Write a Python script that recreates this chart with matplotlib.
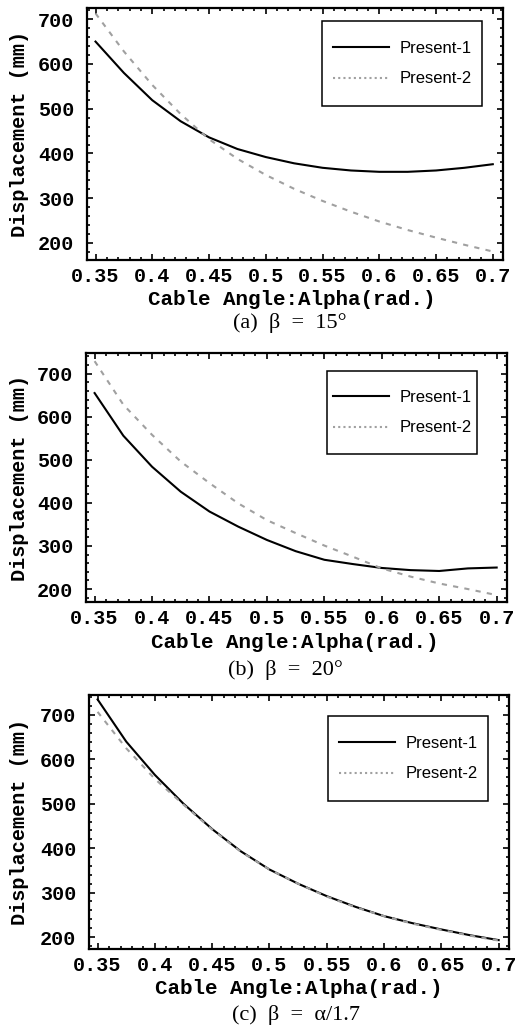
import matplotlib
matplotlib.use("Agg")
import matplotlib.pyplot as plt
from matplotlib.ticker import MultipleLocator, FixedLocator
from matplotlib.patches import Rectangle

# ---------------- data ----------------
alpha = [0.35, 0.375, 0.40, 0.425, 0.45, 0.475, 0.50, 0.525, 0.55,
         0.575, 0.60, 0.625, 0.65, 0.675, 0.70]

a_present1 = [650, 580, 519, 472, 436, 410, 392, 378, 368, 362, 359, 359, 362, 368, 376]
a_present2 = [713, 628, 553, 488, 432, 388, 352, 321, 294, 270, 248, 229, 212, 196, 181]

b_present1 = [655, 556, 484, 426, 380, 345, 314, 288, 268, 258, 249, 244, 242, 248, 250]
b_present2 = [729, 628, 558, 496, 446, 399, 360, 330, 301, 275, 248, 229, 213, 200, 186]

c_present1 = [735, 640, 565, 500, 443, 393, 352, 320, 292, 268, 247, 231, 217, 204, 193]
c_present2 = [707, 625, 556, 498, 442, 392, 352, 320, 291, 267, 247, 230, 216, 203, 192]

x_ticks = [0.35, 0.40, 0.45, 0.50, 0.55, 0.60, 0.65, 0.70]
x_tick_labels = ["0.35", "0.4", "0.45", "0.5", "0.55", "0.6", "0.65", "0.7"]
y_ticks = [200, 300, 400, 500, 600, 700]
y_tick_labels = ["200", "300", "400", "500", "600", "700"]

series_labels = ["Present-1", "Present-2"]
captions = ["(a)  β  =  15°", "(b)  β  =  20°", "(c)  β  =  α/1.7"]
xlabel = "Cable Angle:Alpha(rad.)"
ylabel = "Displacement (mm)"

panels = [
    (a_present1, a_present2, (162, 725)),
    (b_present1, b_present2, (170, 748)),
    (c_present1, c_present2, (173, 745)),
]

# ---------------- layout (pixels) ----------------
W, H = 516, 1026
fig = plt.figure(figsize=(W / 100, H / 100), dpi=100)

# axes boxes (left, right, top, bottom) in pixels
boxes = [(87, 503, 8, 260), (86, 507, 353, 602), (89, 509, 695, 949)]
# legend boxes (left, right, top, bottom) in pixels
leg_boxes = [(322, 482, 21, 106), (327, 477, 371, 454), (328, 488, 716, 801)]
xlabel_pos = [(292, 299), (295, 643), (299, 988)]
caption_pos = [(290, 323), (285, 670), (296, 1015)]

mono = "Liberation Mono"

for i, (p1, p2, ylim) in enumerate(panels):
    l, r, t, b = boxes[i]
    ax = fig.add_axes([l / W, 1 - b / H, (r - l) / W, (b - t) / H])
    ax.plot(alpha, p1, color="black", lw=1.5, label=series_labels[0])
    ax.plot(alpha, p2, color="#a0a0a0", lw=1.5, linestyle=(0, (2.5, 3)),
            label=series_labels[1])
    ax.set_xlim(0.3425, 0.709)
    ax.set_ylim(*ylim)
    ax.xaxis.set_major_locator(FixedLocator(x_ticks))
    ax.set_xticklabels(x_tick_labels)
    ax.yaxis.set_major_locator(FixedLocator(y_ticks))
    ax.set_yticklabels(y_tick_labels)
    ax.xaxis.set_minor_locator(MultipleLocator(0.01))
    ax.yaxis.set_minor_locator(MultipleLocator(20))
    ax.tick_params(which="both", direction="in", top=True, right=True,
                   width=1.2, colors="black")
    ax.tick_params(which="major", length=4.5)
    ax.tick_params(axis="x", which="major", pad=5)
    ax.tick_params(axis="y", which="major", pad=9)
    ax.tick_params(which="minor", length=2.2)
    for lab in ax.get_xticklabels() + ax.get_yticklabels():
        lab.set_fontfamily(mono)
        lab.set_fontweight("bold")
        lab.set_fontsize(14.5)
    for sp in ax.spines.values():
        sp.set_linewidth(1.6)
    ax.set_ylabel(ylabel, fontfamily=mono, fontweight="bold", fontsize=14.5)
    ax.yaxis.set_label_coords(-(l - 29) / (r - l), 0.5)

    # legend frame
    ll, lr, lt, lb = leg_boxes[i]
    fx0 = (ll - l) / (r - l)
    fx1 = (lr - l) / (r - l)
    fy0 = (b - lb) / (b - t)
    fy1 = (b - lt) / (b - t)
    ax.add_patch(Rectangle((fx0, fy0), fx1 - fx0, fy1 - fy0,
                           transform=ax.transAxes, facecolor="white",
                           edgecolor="black", lw=1.1, zorder=3))
    leg = ax.legend(loc="center", bbox_to_anchor=((fx0 + fx1) / 2, (fy0 + fy1) / 2),
                    prop={"family": "Liberation Sans", "size": 12},
                    frameon=False, handlelength=3.4, handletextpad=0.6,
                    borderpad=0.0, labelspacing=0.95, borderaxespad=0.0)
    leg.set_zorder(4)
    leg.get_lines()[1].set_linestyle((0, (1, 1.5)))

    fig.text(xlabel_pos[i][0] / W, 1 - xlabel_pos[i][1] / H, xlabel,
             fontfamily=mono, fontweight="bold", fontsize=15,
             ha="center", va="center")
    fig.text(caption_pos[i][0] / W, 1 - caption_pos[i][1] / H, captions[i],
             fontfamily="Liberation Serif", fontsize=16,
             ha="center", va="center")

fig.savefig("out.png", dpi=100)
